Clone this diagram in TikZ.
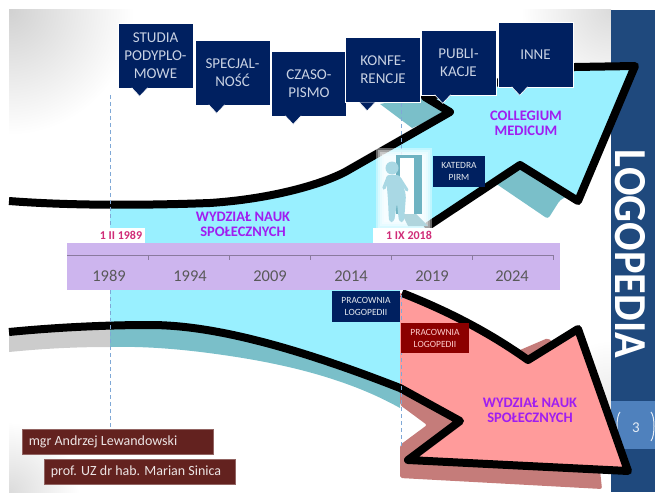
\documentclass[tikz,border=0pt]{standalone}
\usepackage{fontspec}
\setmainfont{Carlito}
\definecolor{navy}{HTML}{002060}
\definecolor{navytext}{HTML}{C9D2E3}
\definecolor{bandblue}{HTML}{1F497D}
\definecolor{numblue}{HTML}{4F81BD}
\definecolor{cyanfill}{HTML}{99F0FF}
\definecolor{tealshadow}{HTML}{7ABFC9}
\definecolor{redfill}{HTML}{FF9B9B}
\definecolor{redshadow}{HTML}{C57C7A}
\definecolor{lilac}{HTML}{CDB5EE}
\definecolor{axisc}{HTML}{8A7A9E}
\definecolor{maroon}{HTML}{63221F}
\definecolor{purpletext}{HTML}{A01EF0}
\definecolor{datepink}{HTML}{D02C78}
\definecolor{dashblue}{HTML}{7FA8D6}
\definecolor{figblue}{HTML}{A9D8E4}
\definecolor{doorc}{HTML}{6FB3C2}
\newcommand{\flagtip}[1]{\draw[fill=navy,draw=white,line width=0.6pt] ([shift={(14,-0.5)}]#1.south west) -- ++(8,8.5) -- ++(8,-8.5);}
\tikzset{
  x=1pt,y=-1pt,
  flag/.style={rectangle,draw=white,line width=0.6pt,fill=navy,text=navytext,
    minimum width=75pt,minimum height=65pt,inner sep=0pt,align=center,
    font=\fontsize{15}{18}\selectfont},
  tag/.style={rectangle,fill=#1,inner sep=0pt,align=center,minimum width=68pt,
    font=\fontsize{9.5}{12}\selectfont},
  person/.style={rectangle,draw=maroon!70!white,line width=0.5pt,fill=maroon,text=white!88!maroon,
    minimum width=191pt,minimum height=25pt,inner sep=0pt,
    font=\fontsize{14}{15}\selectfont},
  unit/.style={text=purpletext,align=center,font=\fontsize{14.5}{15}\selectfont\bfseries,inner sep=0pt},
  datebox/.style={fill=white,text=datepink,inner sep=0pt,minimum height=15pt,
    font=\fontsize{12}{12}\selectfont\bfseries},
  year/.style={text=black!65,inner sep=0pt,font=\fontsize{16.5}{18}\selectfont},
  blackline/.style={draw=black,line width=8pt,line join=round},
  dashline/.style={draw=dashblue,line width=1pt,dash pattern=on 4pt off 3pt},
}
\begin{document}
\begin{tikzpicture}
\useasboundingbox (0,0) rectangle (655,492);
% slide corners
\begin{scope}
  \clip (9,10) rectangle (611,492);
  \shade[inner color=black!18,outer color=white] (9,10) circle (125);
  \shade[inner color=black!14,outer color=white] (611,10) circle (90);
  \shade[inner color=black!14,outer color=white] (9,492) circle (70);
  \shade[inner color=black!8,outer color=white] (611,400) circle (60);
\end{scope}
% side band
\fill[bandblue] (611,10) rectangle (655,492);
\fill[numblue] (611,401) rectangle (655,449);
\draw[white!85!numblue,line width=1pt] (620,412) .. controls (616,416) and (616,436) .. (620,441);
\draw[white!85!numblue,line width=1pt] (651,412) .. controls (655,416) and (655,436) .. (651,441);
% shadows
\fill[black!20] (9,333) -- (110,326) -- (110,347) .. controls (70,347) and (40,349) .. (9,352) -- cycle;
\fill[tealshadow] (110,326) -- (150,325) .. controls (210,325) and (290,345) .. (400,388) -- (400,408)
  .. controls (350,380) and (290,365) .. (230,356) .. controls (190,350) and (150,346) .. (110,347) -- cycle;
\fill[redshadow,rounded corners=2pt] (400,388) -- (400,405) -- (427,425) -- (400,445) -- (400,478)
  -- (602,489) -- (600,470) -- (560,350) -- (548,338) -- (520,350) -- cycle;
\fill[tealshadow] (380,104) -- (425,95) -- (450,112) -- (412,128) -- cycle;
\fill[tealshadow,rounded corners=3pt] (495,183) -- (520,160) -- (570,195) -- (560,200) -- (548,219) -- cycle;
% fills
\fill[cyanfill] (110,207) -- (210,203) .. controls (270,199) and (320,185) .. (345,172) -- (450,112)
  -- (425,97) -- (575,67) -- (635,66) -- (578,201) -- (520,165) -- (430,225) -- (400,240) -- (400,388)
  .. controls (290,345) and (210,325) .. (150,325) -- (110,326) -- cycle;
\fill[redfill] (400,293) .. controls (450,312) and (490,333) .. (528,360) -- (578,329) -- (628,471)
  -- (408,460) -- (460,421) -- (400,388) -- cycle;
% outlines
\draw[blackline] (9,201) .. controls (60,205) and (130,206) .. (210,203)
  .. controls (270,199) and (320,185) .. (345,172) -- (450,112) -- (425,97) -- (575,67)
  -- (635,66) -- (578,201) -- (520,165) -- (425,228);
\draw[blackline] (9,332) .. controls (60,327) and (110,325) .. (150,325)
  .. controls (210,325) and (290,345) .. (400,388) -- (460,421) -- (408,460) -- (628,471)
  -- (578,329) -- (528,360) .. controls (490,333) and (450,312) .. (402,293);
% dashed guides
\coordinate (guideAa) at (110,95);
\coordinate (guideAb) at (110,228);
\coordinate (guideAc) at (110,290);
\coordinate (guideAd) at (110,428);
\coordinate (guideBa) at (401,103);
\coordinate (guideBb) at (401,155);
\coordinate (guideBc) at (401,295);
\coordinate (guideBd) at (401,446);
\draw[dashline] (guideAa) -- (guideAb);
\draw[dashline] (guideAc) -- (guideAd);
\draw[dashline] (guideBa) -- (guideBb);
\draw[dashline] (guideBc) -- (guideBd);
% person in doorway
\foreach \gl in {0,2,4,6,8} \fill[white,opacity=.4] (376+\gl,148+\gl) rectangle (432-\gl,230-\gl);
\fill[doorc] (396,155) rectangle (422,214);
\fill[white] (400,158) rectangle (414,214);
\fill[doorc!55!white] (402,214) -- (416,214) -- (428,226) -- (408,226) -- cycle;
\fill[figblue] (392,168) circle (6.5);
\fill[figblue,rounded corners=3pt] (386,175) -- (400,175) -- (406,195) -- (404,222) -- (399,222)
  -- (397,203) -- (394,222) -- (389,222) -- (388,200) -- cycle;
\draw[figblue,line width=3.5pt,line cap=round] (388,178) -- (384,188);
\draw[figblue,line width=3pt,line cap=round] (400,179) -- (407,190);
% timeline
\fill[lilac] (67,243) rectangle (560,290);
\draw[axisc,line width=0.8pt] (67,255) -- (553,255);
\foreach \tx in {148,229,310,391,472,553} \draw[axisc,line width=0.8pt] (\tx,255) -- (\tx,260);
\node[year] (y89) at (109,276) {1989};
\node[year] (y94) at (190,276) {1994};
\node[year] (y09) at (270,276) {2009};
\node[year] (y14) at (351,276) {2014};
\node[year] (y19) at (432,276) {2019};
\node[year] (y24) at (512,276) {2024};
% dates
\node[datebox,minimum width=48pt] (d89) at (121,235.5) {1 II 1989};
\node[datebox,minimum width=72pt] (d18) at (409,235.5) {1 IX 2018};
% unit labels
\node[unit] (wns) at (243,224.5) {WYDZIAŁ NAUK\\SPOŁECZNYCH};
\node[unit] (cm) at (526,123.5) {COLLEGIUM\\MEDICUM};
\node[unit] (wnsb) at (530,410.5) {WYDZIAŁ NAUK\\SPOŁECZNYCH};
% flags
\node[flag] (f1) at (155.5,55.5) {STUDIA\\PODYPLO-\\MOWE}; \flagtip{f1}
\node[flag] (f2) at (232.5,72.5) {SPECJAL-\\NOŚĆ}; \flagtip{f2}
\node[flag] (f3) at (309,83.5) {CZASO-\\PISMO}; \flagtip{f3}
\node[flag] (f4) at (383,70) {KONFE-\\RENCJE}; \flagtip{f4}
\node[flag] (f5) at (458.5,62.5) {PUBLI-\\KACJE}; \flagtip{f5}
\node[flag] (f6) at (535.5,54.5) {INNE}; \flagtip{f6}
% small tags
\node[tag=navy,text=white!90!navy,minimum width=52pt,minimum height=31pt] (kat) at (459,171.5) {KATEDRA\\PIRM};
\node[tag=navy,text=white!90!navy,minimum height=31pt] (pr1) at (366,306.5) {PRACOWNIA\\LOGOPEDII};
\node[tag=red!55!black,text=white!80!red,minimum height=30pt] (pr2) at (435,338) {PRACOWNIA\\LOGOPEDII};
% persons
\node[person,anchor=north west] (p1) at (21.5,429) {\makebox[191pt][l]{\hspace{7pt}mgr Andrzej Lewandowski}};
\node[person,anchor=north west] (p2) at (43.5,459) {\makebox[191pt][l]{\hspace{7pt}prof. UZ dr hab. Marian Sinica}};
% band texts
\node[text=white,inner sep=0pt,rotate=-90] (logo) at (630.5,254) {\resizebox{208pt}{30pt}{\bfseries LOGOPEDIA}};
\node[text=white!85!numblue,inner sep=0pt,font=\fontsize{15}{15}\selectfont] (num) at (636,428) {3};
\end{tikzpicture}
\end{document}
